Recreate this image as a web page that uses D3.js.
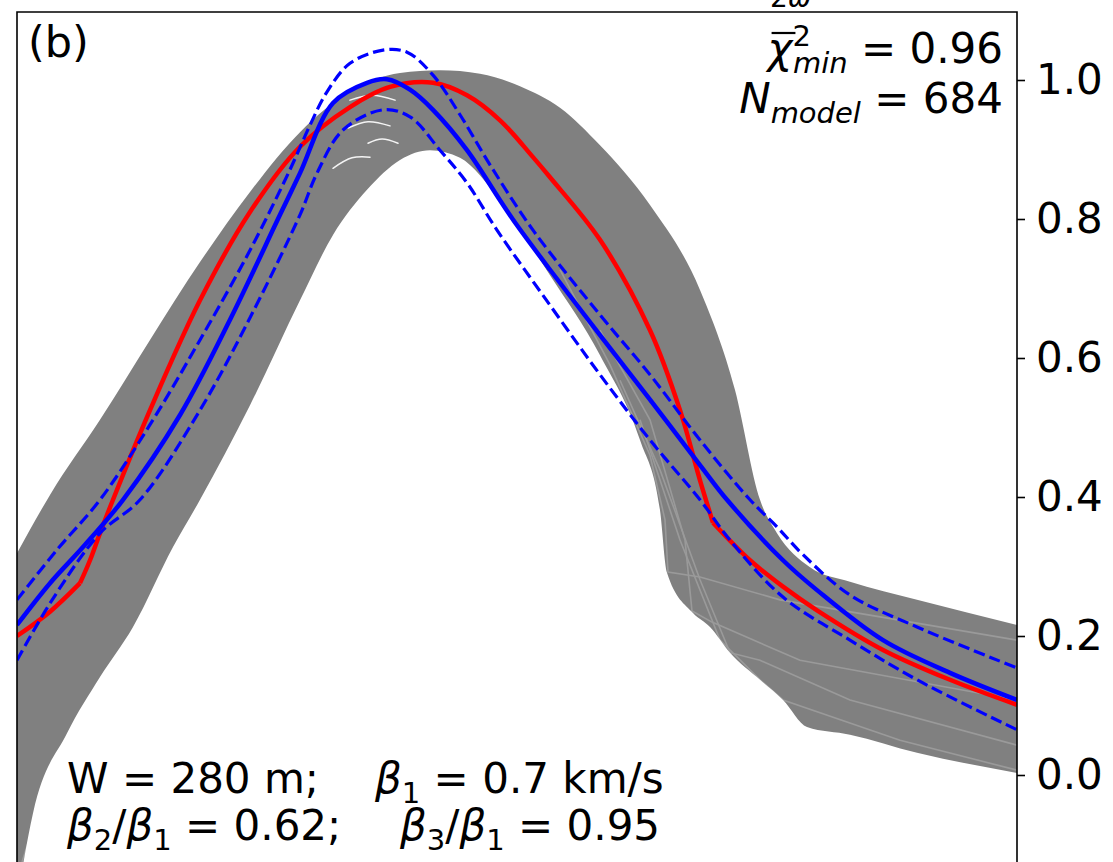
<!DOCTYPE html>
<html>
<head>
<meta charset="utf-8">
<script src="https://cdn.jsdelivr.net/npm/d3@7"></script>
<style>
    body { margin: 0; background: #fff; }
    text { font-family: "DejaVu Sans", sans-serif; fill: #000; }
</style>
</head>
<body>
<div class="chart"></div>
<script>
// offsets along the profile (arbitrary units, 0..1000) and normalised amplitude
var yTicks = [0.0, 0.2, 0.4, 0.6, 0.8, 1.0];

// observed / reference curve (red)
var redX = [0, 33, 63, 73, 83, 96, 133, 183, 233, 283, 333, 373, 416, 450, 483, 516, 533, 583, 633, 663, 683, 696, 733, 766, 800, 866, 933, 1000];
var redY = [0.200, 0.235, 0.276, 0.309, 0.348, 0.396, 0.525, 0.683, 0.810, 0.904, 0.961, 0.990, 0.996, 0.978, 0.942, 0.889, 0.860, 0.770, 0.640, 0.525, 0.424, 0.363, 0.309, 0.271, 0.237, 0.180, 0.137, 0.101];
var redKinks = [2, 21];

// mean of models (blue solid)
var meanX = [0, 33, 66, 106, 163, 213, 263, 283, 316, 350, 370, 393, 416, 450, 483, 500, 533, 583, 633, 683, 710, 766, 800, 866, 933, 1000];
var meanY = [0.216, 0.276, 0.328, 0.396, 0.518, 0.655, 0.806, 0.866, 0.967, 0.996, 1.001, 0.986, 0.957, 0.899, 0.827, 0.791, 0.727, 0.633, 0.540, 0.446, 0.396, 0.309, 0.266, 0.194, 0.147, 0.108];

// mean +/- spread (blue dashed)
var hiX = [0, 40, 83, 133, 183, 233, 273, 293, 310, 333, 366, 390, 416, 443, 473, 516, 583, 633, 683, 733, 760, 786, 833, 900, 1000];
var hiY = [0.252, 0.324, 0.396, 0.504, 0.626, 0.755, 0.871, 0.935, 0.983, 1.024, 1.043, 1.040, 1.007, 0.950, 0.878, 0.784, 0.662, 0.576, 0.482, 0.396, 0.357, 0.317, 0.259, 0.213, 0.154];
var loX = [0, 33, 83, 123, 183, 233, 283, 300, 326, 366, 393, 423, 450, 480, 533, 583, 633, 683, 713, 766, 833, 900, 1000];
var loY = [0.165, 0.247, 0.348, 0.396, 0.525, 0.658, 0.806, 0.866, 0.928, 0.957, 0.947, 0.899, 0.852, 0.784, 0.676, 0.576, 0.482, 0.396, 0.338, 0.256, 0.194, 0.137, 0.065];

// envelope of the 684 model curves (grey band)
var topX = [0, 33, 83, 133, 183, 233, 283, 333, 383, 423, 463, 503, 543, 583, 633, 683, 718, 743, 760, 793, 833, 900, 1000];
var topY = [0.319, 0.403, 0.511, 0.626, 0.738, 0.839, 0.925, 0.983, 1.010, 1.014, 1.009, 0.991, 0.960, 0.906, 0.820, 0.698, 0.554, 0.396, 0.348, 0.299, 0.278, 0.252, 0.216];
var botX = [0, 16, 50, 83, 116, 156, 183, 233, 283, 316, 350, 383, 413, 443, 483, 533, 583, 623, 643, 650, 676, 693, 713, 743, 766, 790, 833, 900, 1000];
var botY = [-0.180, -0.055, 0.060, 0.141, 0.213, 0.328, 0.396, 0.532, 0.683, 0.777, 0.842, 0.885, 0.899, 0.888, 0.827, 0.719, 0.604, 0.482, 0.381, 0.291, 0.233, 0.213, 0.176, 0.137, 0.108, 0.069, 0.058, 0.032, 0.003];

// single models that show as lighter streaks near the band edges
var edgeModels = [
    { x: [5, 21, 38, 55, 73, 88, 108, 123, 143, 163, 188], y: [-0.125, -0.053, 0.007, 0.058, 0.091, 0.137, 0.183, 0.220, 0.273, 0.331, 0.396] },
    { x: [13, 28, 45, 61, 78, 83, 101, 118, 133, 158, 183], y: [-0.125, -0.058, -0.004, 0.043, 0.082, 0.108, 0.148, 0.194, 0.230, 0.309, 0.374] },
    { x: [543, 593, 633, 648, 651, 683, 763, 1000], y: [0.727, 0.590, 0.460, 0.367, 0.292, 0.285, 0.252, 0.194] },
    { x: [583, 633, 668, 675, 695, 783, 1000], y: [0.640, 0.511, 0.338, 0.236, 0.220, 0.165, 0.108] },
    { x: [603, 643, 683, 713, 743, 833, 1000], y: [0.568, 0.439, 0.281, 0.176, 0.165, 0.108, 0.043] },
    { x: [623, 663, 703, 743, 766, 883, 1000], y: [0.511, 0.338, 0.194, 0.137, 0.108, 0.050, 0.007] }
];

// thin gaps between groups of models near the peak
var gaps = [
    { x: [333, 355, 378], y: [0.971, 0.978, 0.971] },
    { x: [331, 351, 373], y: [0.931, 0.940, 0.934] },
    { x: [316, 335, 353], y: [0.873, 0.888, 0.889] },
    { x: [351, 365, 381], y: [0.909, 0.915, 0.909] }
];

var width = 1113,
    height = 862;

var plot = { left: 17, right: 1017, top: 12, bottom: 920 };

var x = d3.scaleLinear().domain([0, 1000]).range([plot.left, plot.right]);
var y = d3.scaleLinear().domain([0, 1]).range([775, 80]);

var svg = d3.select(".chart").append("svg")
    .attr("width", width)
    .attr("height", height);

svg.append("clipPath").attr("id", "clip")
    .append("rect")
    .attr("x", plot.left).attr("y", plot.top)
    .attr("width", plot.right - plot.left)
    .attr("height", plot.bottom - plot.top);

var g = svg.append("g").attr("clip-path", "url(#clip)");

function pts(xs, ys) {
    return xs.map(function(d, i) { return [d, ys[i]]; });
}

var smooth = d3.curveCatmullRom.alpha(0.5);

var line = d3.line()
    .x(function(d) { return x(d[0]); })
    .y(function(d) { return y(d[1]); })
    .curve(smooth);

var straight = d3.line()
    .x(function(d) { return x(d[0]); })
    .y(function(d) { return y(d[1]); });

var areaDown = d3.area()
    .x(function(d) { return x(d[0]); })
    .y0(y(-0.5))
    .y1(function(d) { return y(d[1]); })
    .curve(d3.curveMonotoneX);

// grey band: fill below the upper envelope ...
g.append("path")
    .attr("d", areaDown(pts(topX, topY)))
    .attr("fill", "#808080");

g.selectAll(".edge")
    .data(edgeModels)
    .enter().append("path")
    .attr("class", "edge")
    .attr("d", function(d) { return straight(pts(d.x, d.y)); })
    .attr("fill", "none")
    .attr("stroke", "#9a9a9a")
    .attr("stroke-width", 1.6);

// ... then clear below the lower envelope
g.append("path")
    .attr("d", areaDown(pts(botX, botY)))
    .attr("fill", "#fff");

g.selectAll(".gap")
    .data(gaps)
    .enter().append("path")
    .attr("class", "gap")
    .attr("d", function(d) { return line(pts(d.x, d.y)); })
    .attr("fill", "none")
    .attr("stroke", "#f4f4f4")
    .attr("stroke-width", 1.5)
    .attr("stroke-linecap", "round");

// red curve, drawn in pieces so the kinks stay sharp
var redPts = pts(redX, redY);
var cuts = [0].concat(redKinks, [redPts.length - 1]);
for (var i = 0; i < cuts.length - 1; i++) {
    g.append("path")
        .attr("d", line(redPts.slice(cuts[i], cuts[i + 1] + 1)))
        .attr("fill", "none")
        .attr("stroke", "#ff0000")
        .attr("stroke-width", 4.5)
        .attr("stroke-linejoin", "round");
}

[[hiX, hiY], [loX, loY]].forEach(function(s) {
    g.append("path")
        .attr("d", line(pts(s[0], s[1])))
        .attr("fill", "none")
        .attr("stroke", "#0000ff")
        .attr("stroke-width", 3.2)
        .attr("stroke-dasharray", "11.5,5");
});

g.append("path")
    .attr("d", line(pts(meanX, meanY)))
    .attr("fill", "none")
    .attr("stroke", "#0000ff")
    .attr("stroke-width", 4.5);

// frame (left, top, right); bottom is off the page
svg.append("path")
    .attr("d", "M" + plot.left + "," + (height + 5) + "V" + plot.top + "H" + plot.right + "V" + (height + 5))
    .attr("fill", "none")
    .attr("stroke", "#000")
    .attr("stroke-width", 1.6);

// right-hand y axis
var axis = svg.append("g")
    .attr("transform", "translate(" + plot.right + ",0)")
    .call(d3.axisRight(y).tickValues(yTicks).tickFormat(d3.format(".1f")).tickSize(8).tickPadding(11));
axis.select(".domain").remove();
axis.selectAll(".tick line").attr("stroke", "#000").attr("stroke-width", 1.6);
axis.selectAll(".tick text")
    .style("font-family", "DejaVu Sans")
    .style("font-size", "42px")
    .attr("fill", "#000");

// annotations
var fs = 42, sub = 29;

svg.append("text").attr("x", 28).attr("y", 57).style("font-size", "43px").text("(b)");

// title above the frame, mostly cut off by the page edge
svg.append("text").attr("x", 770).attr("y", 7).style("font-size", "28px")
    .html('<tspan>2</tspan><tspan font-style="italic">ω</tspan>');

var chi = svg.append("text").attr("x", 1003).attr("y", 63)
    .attr("text-anchor", "end").style("font-size", fs + "px");
chi.append("tspan").attr("font-style", "italic").text("χ");
chi.append("tspan").attr("dy", -17).style("font-size", sub + "px").text("2");
chi.append("tspan").attr("dx", -18).attr("dy", 27).style("font-size", sub + "px").attr("font-style", "italic").text("min");
chi.append("tspan").attr("dy", -10).text(" = 0.96");
// bar over chi
var c0 = chi.node().getStartPositionOfChar(0), c1 = chi.node().getEndPositionOfChar(0);
svg.append("line")
    .attr("x1", c0.x + 4).attr("x2", c1.x + 3)
    .attr("y1", 33).attr("y2", 33)
    .attr("stroke", "#000").attr("stroke-width", 2.2);

var nm = svg.append("text").attr("x", 1003).attr("y", 113)
    .attr("text-anchor", "end").style("font-size", fs + "px");
nm.append("tspan").attr("font-style", "italic").text("N");
nm.append("tspan").attr("dy", 10).style("font-size", sub + "px").attr("font-style", "italic").text("model");
nm.append("tspan").attr("dy", -10).text(" = 684");

function beta(t, n, tail) {
    t.append("tspan").attr("font-style", "italic").text("β");
    t.append("tspan").attr("dy", 10).style("font-size", sub + "px").text(n);
    t.append("tspan").attr("dy", -10).text(tail);
}

svg.append("text").attr("x", 67).attr("y", 793).style("font-size", fs + "px").text("W = 280 m;");
var b1 = svg.append("text").attr("x", 375).attr("y", 793).style("font-size", fs + "px");
beta(b1, "1", " = 0.7 km/s");

var b2 = svg.append("text").attr("x", 67).attr("y", 840).style("font-size", fs + "px");
beta(b2, "2", "/");
beta(b2, "1", " = 0.62;");
var b3 = svg.append("text").attr("x", 400).attr("y", 840).style("font-size", fs + "px");
beta(b3, "3", "/");
beta(b3, "1", " = 0.95");
</script>
</body>
</html>
